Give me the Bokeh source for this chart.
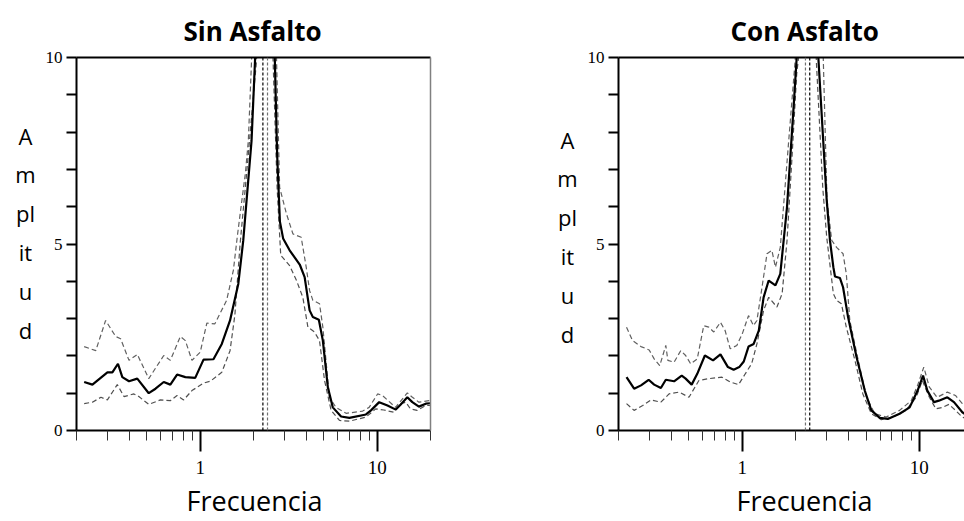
from bokeh.plotting import figure
from bokeh.models import LinearAxis, FixedTicker, Range1d, Span, CustomJSTickFormatter, Title
from bokeh.layouts import row
from bokeh.embed import file_html
from bokeh.resources import INLINE

# ---------------- data: "Sin Asfalto" ----------------
sin_f_mean = [0.221, 0.246, 0.299, 0.319, 0.343, 0.363, 0.396, 0.441, 0.512, 0.559, 0.622, 0.678, 0.740, 0.824,
              0.937, 1.044, 1.188, 1.324, 1.474, 1.641, 1.75, 1.95, 2.04, 2.33, 2.64, 2.72, 2.82, 2.94, 3.20,
              3.65, 3.89, 4.15, 4.33, 4.68, 4.93, 5.26, 5.61, 6.25, 6.96, 8.64, 9.22, 10.26, 11.43, 12.73,
              13.58, 14.79, 15.79, 17.2, 18.8, 20.0]
sin_v_mean = [1.30, 1.23, 1.56, 1.56, 1.79, 1.43, 1.32, 1.39, 1.00, 1.12, 1.30, 1.23, 1.50, 1.43,
              1.41, 1.90, 1.91, 2.32, 2.95, 3.93, 5.09, 7.77, 9.92, 25.0, 9.92, 7.4, 5.6, 5.15, 4.83,
              4.45, 4.11, 3.22, 3.04, 2.97, 2.41, 1.16, 0.62, 0.375, 0.34, 0.43, 0.54, 0.76, 0.67, 0.56,
              0.70, 0.89, 0.76, 0.64, 0.72, 0.73]

sin_f_up = [0.221, 0.257, 0.292, 0.333, 0.355, 0.396, 0.441, 0.512, 0.622, 0.678, 0.772, 0.824, 0.898, 1.0,
            1.09, 1.21, 1.41, 1.54, 1.62, 1.70, 1.80, 1.87, 1.95, 2.33, 2.70, 2.81, 3.07, 3.34, 3.72, 3.97,
            4.15, 4.33, 4.72, 4.93, 5.37, 5.85, 6.67, 8.28, 9.0, 10.05, 10.7, 12.7, 14.8, 15.8, 17.2, 19.6, 20.0]
sin_v_up = [2.25, 2.14, 2.95, 2.52, 2.46, 1.88, 2.04, 1.39, 2.01, 1.88, 2.52, 2.41, 1.88, 2.10,
            2.88, 2.86, 3.49, 4.30, 5.20, 5.99, 6.90, 7.77, 9.92, 25.0, 9.92, 6.52, 5.81, 5.27, 5.18, 4.38,
            3.75, 3.49, 3.40, 2.77, 0.89, 0.62, 0.46, 0.52, 0.62, 0.98, 0.94, 0.62, 1.01, 0.89, 0.76, 0.80, 0.80]

sin_f_lo = [0.221, 0.246, 0.275, 0.299, 0.340, 0.371, 0.422, 0.45, 0.512, 0.596, 0.678, 0.74, 0.806, 0.898,
            1.044, 1.14, 1.324, 1.474, 1.57, 1.68, 1.83, 2.08, 2.33, 2.58, 2.72, 2.85, 3.2, 3.5, 3.8, 4.06,
            4.42, 4.72, 5.04, 5.49, 6.12, 6.96, 8.64, 9.8, 10.9, 12.4, 13.6, 14.5, 15.4, 16.8, 18.8, 20.0]
sin_v_lo = [0.72, 0.76, 0.89, 0.82, 1.23, 0.91, 0.98, 0.91, 0.70, 0.82, 0.80, 0.94, 0.82, 1.07,
            1.27, 1.32, 1.56, 2.14, 3.10, 5.00, 6.90, 9.92, 25.0, 9.92, 6.5, 4.7, 4.42, 4.02, 3.57, 2.77,
            2.64, 2.41, 1.34, 0.54, 0.27, 0.25, 0.36, 0.58, 0.55, 0.49, 0.72, 0.76, 0.58, 0.54, 0.67, 0.67]

sin_vlines = [2.26, 2.40]

# ---------------- data: "Con Asfalto" ----------------
con_f_mean = [0.222, 0.245, 0.268, 0.296, 0.318, 0.347, 0.370, 0.412, 0.455, 0.479, 0.518, 0.557, 0.615, 0.684,
              0.753, 0.830, 0.894, 0.962, 1.02, 1.085, 1.16, 1.24, 1.32, 1.41, 1.54, 1.64, 1.79, 1.95, 2.03,
              2.33, 2.69, 3.0, 3.13, 3.27, 3.34, 3.56, 3.71, 3.96, 4.42, 4.92, 5.36, 5.98, 6.64, 7.74, 8.82,
              9.78, 10.5, 11.1, 12.1, 12.9, 14.4, 15.7, 17.5, 20.0]
con_v_mean = [1.43, 1.12, 1.21, 1.36, 1.23, 1.14, 1.36, 1.32, 1.47, 1.39, 1.23, 1.52, 2.01, 1.88,
              2.04, 1.70, 1.63, 1.70, 1.85, 2.25, 2.32, 2.68, 3.57, 4.02, 3.89, 4.20, 5.99, 8.67, 10.0,
              25.0, 10.0, 6.17, 5.09, 4.38, 4.13, 4.09, 3.84, 3.04, 1.97, 1.07, 0.54, 0.34, 0.31, 0.45, 0.62,
              1.07, 1.47, 1.07, 0.76, 0.80, 0.89, 0.76, 0.49, 0.30]

con_f_up = [0.222, 0.24, 0.268, 0.298, 0.318, 0.342, 0.37, 0.38, 0.412, 0.449, 0.479, 0.511, 0.557, 0.606,
            0.647, 0.69, 0.753, 0.80, 0.855, 0.932, 1.0, 1.085, 1.157, 1.21, 1.28, 1.38, 1.47, 1.54, 1.64,
            1.83, 1.99, 2.33, 2.87, 3.01, 3.20, 3.41, 3.71, 3.87, 4.05, 4.52, 5.04, 5.6, 6.5, 7.74, 9.0,
            9.78, 10.6, 11.4, 12.6, 14.4, 16.0, 17.5, 20.0]
con_v_up = [2.77, 2.41, 2.25, 2.16, 1.92, 1.74, 2.28, 1.88, 1.83, 2.14, 2.01, 1.79, 1.92, 2.81,
            2.77, 2.64, 2.90, 2.68, 2.19, 2.28, 2.59, 3.08, 2.81, 2.95, 3.70, 4.74, 4.83, 4.38, 4.91,
            7.77, 9.92, 25.0, 9.92, 6.20, 5.10, 4.91, 4.74, 4.20, 2.95, 1.88, 0.89, 0.45, 0.36, 0.54, 0.80,
            1.21, 1.70, 1.16, 0.89, 1.03, 0.94, 0.72, 0.45]

con_f_lo = [0.222, 0.245, 0.274, 0.305, 0.347, 0.386, 0.44, 0.50, 0.569, 0.647, 0.768, 0.855, 0.953, 1.04,
            1.13, 1.21, 1.32, 1.41, 1.57, 1.68, 1.79, 1.91, 2.03, 2.08, 2.33, 2.62, 2.85, 3.0, 3.27, 3.41,
            3.63, 3.87, 4.33, 4.80, 5.36, 6.1, 7.1, 8.4, 9.6, 10.4, 11.4, 12.4, 13.5, 14.7, 16.0, 17.5, 20.0]
con_v_lo = [0.72, 0.54, 0.67, 0.82, 0.76, 0.98, 1.03, 0.89, 1.34, 1.39, 1.43, 1.30, 1.23, 1.52,
            1.79, 2.32, 3.22, 3.57, 3.31, 3.67, 5.09, 7.33, 9.56, 10.0, 25.0, 9.92, 6.5, 5.18, 3.67, 3.49,
            3.40, 2.77, 1.88, 0.98, 0.45, 0.29, 0.36, 0.54, 0.89, 1.34, 0.89, 0.58, 0.62, 0.70, 0.54, 0.36, 0.25]

con_vlines = [2.275, 2.405]

x_major = [1, 10]
x_minor = [0.2, 0.3, 0.4, 0.5, 0.6, 0.7, 0.8, 0.9, 2, 3, 4, 5, 6, 7, 8, 9, 20]
y_major = [0, 5, 10]
y_minor = [1, 2, 3, 4, 6, 7, 8, 9]
ylabel_parts = ["A", "m", "pl", "it", "u", "d"]

SANS = "Open Sans"
SERIF = "Liberation Serif"
H = 521
TOP = 57      # frame top (px)
BOTTOM = 430  # frame bottom (px)


def make_gutter(width, cx, baseline0, step):
    # narrow text-only figure; its frame is aligned with the panels' frames,
    # so its y range is expressed in page pixels from TOP to BOTTOM
    g = figure(width=width, height=H, x_range=Range1d(0, width), y_range=Range1d(BOTTOM, TOP),
               output_backend="svg", toolbar_location=None,
               x_axis_location=None, y_axis_location=None,
               min_border_left=0, min_border_right=0, min_border_top=TOP, min_border_bottom=H - BOTTOM)
    g.grid.visible = False
    g.outline_line_color = None
    g.background_fill_color = "white"
    g.border_fill_color = "white"
    ys = [baseline0 + i * step for i in range(len(ylabel_parts))]
    g.text(x=[cx] * len(ylabel_parts), y=ys, text=ylabel_parts,
           text_align="center", text_baseline="alphabetic",
           text_font={"value": SANS}, text_font_size="22px", text_color="black")
    return g


def bare_axis(color, width):
    return LinearAxis(ticker=FixedTicker(ticks=[]), axis_line_width=width, axis_line_color=color,
                      major_tick_line_color=None, minor_tick_line_color=None,
                      major_tick_out=0, major_tick_in=0, minor_tick_out=0, minor_tick_in=0,
                      major_label_standoff=0, axis_label_standoff=0,
                      major_label_text_font_size="0px")


def make_panel(title, fm, vm, fu, vu, fl, vl, vlines, vline_colors, width, bl, br, xmax,
               title_offset, xlab_offset, right_border):
    p = figure(width=width, height=H, x_axis_type="log",
               x_range=Range1d(0.2, xmax), y_range=Range1d(0, 10),
               output_backend="svg", toolbar_location=None,
               min_border_left=bl, min_border_right=br, min_border_top=TOP, min_border_bottom=H - BOTTOM)
    p.xgrid.visible = False
    p.ygrid.visible = False
    p.outline_line_color = None
    p.background_fill_color = "white"
    p.border_fill_color = "white"

    p.title.text = title
    p.title.align = "left"
    p.title.offset = title_offset
    p.title.text_font = SANS
    p.title.text_font_style = "bold"
    p.title.text_font_size = "26px"
    p.title.text_color = "black"
    p.title.standoff = 18

    xa = p.xaxis[0]
    xa.ticker = FixedTicker(ticks=x_major, minor_ticks=x_minor)
    xa.formatter = CustomJSTickFormatter(code="return tick.toString();")
    xa.axis_line_width = 2
    xa.axis_line_color = "black"
    xa.major_tick_out = 21
    xa.major_tick_in = 0
    xa.minor_tick_out = 10
    xa.minor_tick_in = 0
    xa.major_tick_line_width = 2
    xa.major_tick_line_color = "black"
    xa.minor_tick_line_width = 1
    xa.minor_tick_line_color = "#333333"
    xa.major_label_text_font = SERIF
    xa.major_label_text_font_size = "19px"
    xa.major_label_text_color = "black"
    xa.major_label_standoff = 9
    xa.axis_label_standoff = 0

    p.add_layout(Title(text="Frecuencia", align="left", offset=xlab_offset, text_font=SANS,
                       text_font_style="normal", text_font_size="27px", text_color="black",
                       standoff=6), "below")

    ya = p.yaxis[0]
    ya.ticker = FixedTicker(ticks=y_major, minor_ticks=y_minor)
    ya.axis_line_width = 2
    ya.axis_line_color = "black"
    ya.major_tick_out = 10
    ya.major_tick_in = 0
    ya.minor_tick_out = 10
    ya.minor_tick_in = 0
    ya.major_tick_line_width = 2
    ya.minor_tick_line_width = 2
    ya.major_tick_line_color = "black"
    ya.minor_tick_line_color = "black"
    ya.major_label_text_font = SERIF
    ya.major_label_text_font_size = "17px"
    ya.major_label_text_color = "black"
    ya.major_label_standoff = 4

    p.add_layout(bare_axis("black", 2), "above")
    if right_border:
        p.add_layout(bare_axis("#808080", 1.5), "right")

    for xv, col in zip(vlines, vline_colors):
        p.add_layout(Span(location=xv, dimension="height", line_color=col,
                          line_width=1.2, line_dash="3 2"))

    p.line(fu, vu, line_color="#606060", line_width=1.2, line_dash="5 3")
    p.line(fl, vl, line_color="#505050", line_width=1.2, line_dash="5 3")
    p.line(fm, vm, line_color="black", line_width=2.2)
    return p


g1 = make_gutter(40, 25, 135, 38.8)
p1 = make_panel("Sin Asfalto", sin_f_mean, sin_v_mean, sin_f_up, sin_v_up, sin_f_lo, sin_v_lo,
                sin_vlines, ["black", "#707070"], 446, 36, 56, 20.0, 107, 110, True)
g2 = make_gutter(96, 81, 139, 38.8)
p2 = make_panel("Con Asfalto", con_f_mean, con_v_mean, con_f_up, con_v_up, con_f_lo, con_v_lo,
                con_vlines, ["#707070", "black"], 382, 36, 0, 18.0, 112, 118, False)

layout = row(g1, p1, g2, p2)
open("out.html", "w").write(file_html(layout, INLINE))
